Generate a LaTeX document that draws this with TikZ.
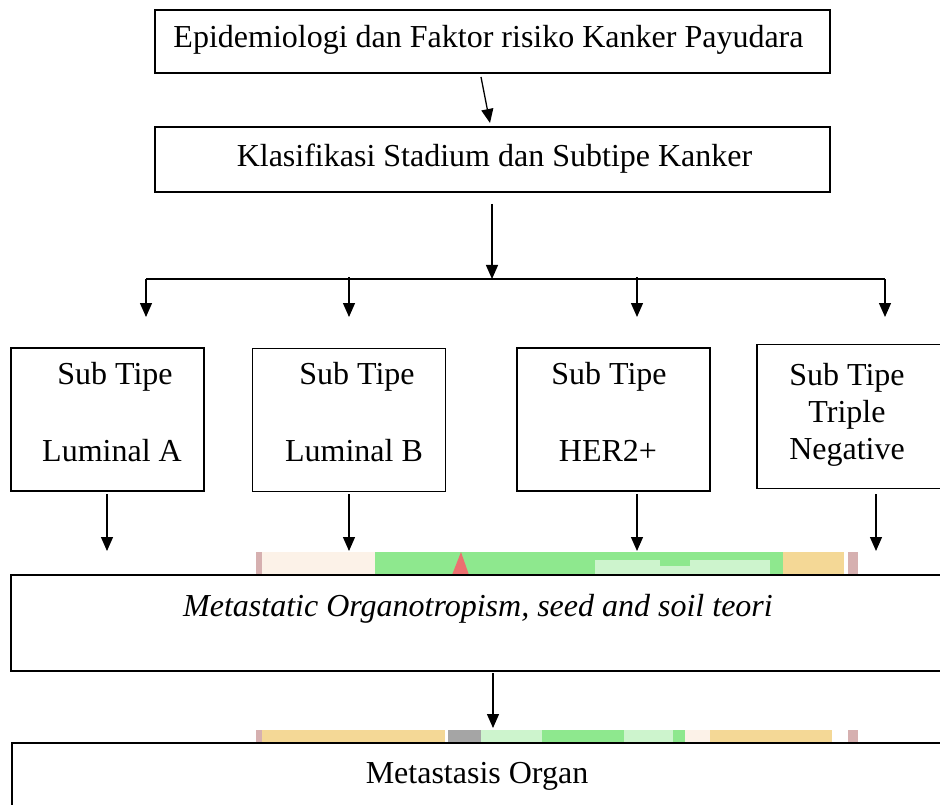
\documentclass[tikz,border=0pt]{standalone}
\usepackage{fontspec}
\setmainfont{Liberation Serif}
\usetikzlibrary{arrows.meta,calc}
\definecolor{wmgreen}{RGB}{142,232,142}
\definecolor{wmlgreen}{RGB}{205,244,205}
\definecolor{wmyellow}{RGB}{244,216,150}
\definecolor{wmlyellow}{RGB}{252,242,232}
\definecolor{wmpink}{RGB}{214,176,176}
\definecolor{wmred}{RGB}{236,112,112}
\definecolor{wmgray}{RGB}{165,165,165}
\tikzset{
  boxnode/.style={draw=black, line width=1.6pt, fill=white, rectangle, inner sep=0pt},
  txt/.style={font=\fontsize{32}{38}\selectfont, inner sep=0pt, anchor=base},
  arr/.style={line width=1.3pt, -{Triangle[length=14pt,width=12pt]}},
  ln/.style={line width=1.3pt}
}
\begin{document}
\begin{tikzpicture}[x=1pt,y=-1pt]
\useasboundingbox (0,0) rectangle (940,805);
\clip (0,0) rectangle (940,805);
% watermark traces visible between boxes
\fill[wmlyellow] (262,552) rectangle (375,575);
\fill[wmgreen] (375,552) rectangle (844,575);
\fill[wmlgreen] (595,560) rectangle (770,575);
\fill[wmgreen] (660,560) rectangle (690,566);
\fill[wmred] (452,575) -- (461,552) -- (469,575) -- cycle;
\fill[wmyellow] (783,552) rectangle (844,575);
\fill[wmpink] (256,552) rectangle (262,575);
\fill[wmpink] (848,552) rectangle (858,575);
\fill[wmyellow] (262,730) rectangle (445,743);
\fill[wmgray] (448,730) rectangle (481,743);
\fill[wmlgreen] (481,730) rectangle (542,743);
\fill[wmgreen] (542,730) rectangle (624,743);
\fill[wmlgreen] (624,730) rectangle (673,743);
\fill[wmgreen] (673,730) rectangle (685,743);
\fill[wmlyellow] (685,730) rectangle (710,743);
\fill[wmyellow] (710,730) rectangle (832,743);
\fill[wmpink] (256,730) rectangle (262,743);
\fill[wmpink] (848,730) rectangle (858,743);

% boxes
\node[boxnode, minimum width=675pt, minimum height=63pt] (epi) at (492.5,41.5) {};
\node[boxnode, minimum width=675pt, minimum height=65pt] (kla) at (492.5,159.5) {};
\node[boxnode, minimum width=193pt, minimum height=143pt] (s1) at (107.5,419.5) {};
\node[boxnode, minimum width=193pt, minimum height=143pt, line width=1pt] (s2) at (348.5,419.5) {};
\node[boxnode, minimum width=193pt, minimum height=143pt, line width=1.2pt] (s3) at (613.5,419.5) {};
\node[boxnode, minimum width=200pt, minimum height=144pt] (s4) at (857,416.5) {};
\node[boxnode, minimum width=960pt, minimum height=96pt] (meta) at (491,623) {};
\node[boxnode, minimum width=960pt, minimum height=100pt] (org) at (492,793) {};

% texts
\node[txt] (tepi) at (488.5,48) {Epidemiologi dan Faktor risiko Kanker Payudara};
\node[txt] (tkla) at (494.5,167) {Klasifikasi Stadium dan Subtipe Kanker};
\node[txt] (t1a) at (115,384) {Sub Tipe};
\node[txt] (t1b) at (112,461) {Luminal A};
\node[txt] (t2a) at (357,384) {Sub Tipe};
\node[txt] (t2b) at (354,461) {Luminal B};
\node[txt] (t3a) at (609,384) {Sub Tipe};
\node[txt] (t3b) at (608,461) {HER2+};
\node[txt] (t4a) at (847,385) {Sub Tipe};
\node[txt] (t4b) at (847,422) {Triple};
\node[txt] (t4c) at (847,459) {Negative};
\node[txt] (tmeta) at (478,616) {\itshape Metastatic Organotropism, seed and soil teori};
\node[txt] (torg) at (477,783) {Metastasis Organ};

% connector coordinates
\coordinate (a1s) at (481,77);
\coordinate (a1e) at (490,123);
\coordinate (a2s) at (492,204);
\coordinate (hub) at (492,279);
\coordinate (hl) at (146,279);
\coordinate (hr) at (885,279);
\coordinate (m2) at (349,277);
\coordinate (m3) at (637,277);
\coordinate (b1) at (146,317);
\coordinate (b2) at (349,317);
\coordinate (b3) at (637,317);
\coordinate (b4) at (885,317);
\coordinate (d1s) at (107,494);
\coordinate (d2s) at (349,494);
\coordinate (d3s) at (637,494);
\coordinate (d4s) at (876,494);
\coordinate (d1e) at (107,551);
\coordinate (d2e) at (349,551);
\coordinate (d3e) at (637,551);
\coordinate (d4e) at (876,551);
\coordinate (a3s) at (493,673);
\coordinate (a3e) at (493,728);

\draw[arr] (a1s) -- (a1e);
\draw[arr] (a2s) -- (hub);
\draw[ln] (hl) -- (hr);
\draw[arr] (hl) -- (b1);
\draw[arr] (m2) -- (b2);
\draw[arr] (m3) -- (b3);
\draw[arr] (hr) -- (b4);
\draw[arr] (d1s) -- (d1e);
\draw[arr] (d2s) -- (d2e);
\draw[arr] (d3s) -- (d3e);
\draw[arr] (d4s) -- (d4e);
\draw[arr] (a3s) -- (a3e);
\end{tikzpicture}
\end{document}
